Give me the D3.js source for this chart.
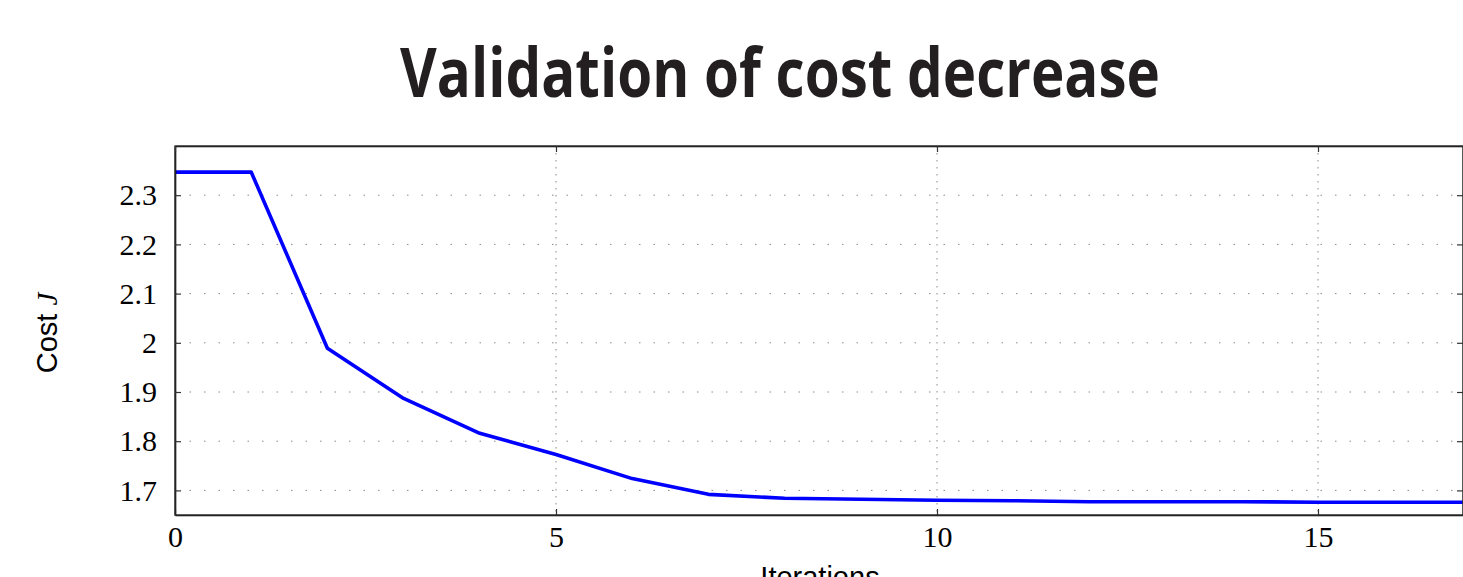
<!DOCTYPE html>
<html>
<head>
<meta charset="utf-8">
<script src="https://cdn.jsdelivr.net/npm/d3@7"></script>
<style>
  body { margin: 0; background: #fff; overflow: hidden; }
  .tick text { font-family: "Liberation Serif", "DejaVu Serif", serif; font-size: 30px; fill: #000; }
</style>
</head>
<body>
<div class="chart"></div>
<script>
// data
var iterations = [0, 1, 2, 3, 4, 5, 6, 7, 8, 9, 10, 11, 12, 13, 14, 15, 16, 17];
var cost = [2.347, 2.347, 1.989, 1.887, 1.816, 1.773, 1.724, 1.692, 1.684, 1.682,
            1.680, 1.679, 1.677, 1.677, 1.677, 1.676, 1.676, 1.676];
var xTicks = [0, 5, 10, 15];
var yTicks = [1.7, 1.8, 1.9, 2.0, 2.1, 2.2, 2.3];

var svgWidth = 1463;
var svgHeight = 577;

var margin = { top: 146, right: 0, bottom: 62, left: 175 };
var width = svgWidth - margin.left - margin.right;
var height = svgHeight - margin.top - margin.bottom;

var svg = d3.select(".chart")
  .append("svg")
  .attr("width", svgWidth)
  .attr("height", svgHeight);

svg.append("defs").append("clipPath").attr("id", "plotclip")
  .append("rect").attr("width", width).attr("height", height);

var chartGroup = svg.append("g")
  .attr("transform", `translate(${margin.left}, ${margin.top})`);

var xScale = d3.scaleLinear()
  .domain([0, width / 76.2])
  .range([0, width]);

var yScale = d3.scaleLinear()
  .domain([1.65, 2.4])
  .range([height, 0]);

// dotted grid
chartGroup.append("g")
  .selectAll("line")
  .data(yTicks)
  .enter()
  .append("line")
  .attr("x1", 0)
  .attr("x2", width)
  .attr("y1", d => yScale(d))
  .attr("y2", d => yScale(d))
  .attr("stroke", "#8a8a8a")
  .attr("stroke-width", 1)
  .attr("stroke-dasharray", "1.5,13");

chartGroup.append("g")
  .selectAll("line")
  .data(xTicks.filter(d => d > 0))
  .enter()
  .append("line")
  .attr("x1", d => xScale(d))
  .attr("x2", d => xScale(d))
  .attr("y1", 0)
  .attr("y2", height)
  .attr("stroke", "#8a8a8a")
  .attr("stroke-width", 1)
  .attr("stroke-dasharray", "1.5,5.5");

// the line
var line = d3.line()
  .x((d, i) => xScale(iterations[i]))
  .y(d => yScale(d));

chartGroup.append("path")
  .datum(cost)
  .attr("clip-path", "url(#plotclip)")
  .attr("fill", "none")
  .attr("stroke", "#0000ff")
  .attr("stroke-width", 3.6)
  .attr("stroke-linejoin", "round")
  .attr("d", line);

// axes (ticks point inwards)
var xAxis = d3.axisBottom(xScale).tickValues(xTicks).tickSizeInner(-6).tickSizeOuter(0).tickPadding(11);
var yAxis = d3.axisLeft(yScale).tickValues(yTicks).tickSizeInner(-6).tickSizeOuter(0).tickPadding(18)
  .tickFormat(d => d === 2 ? "2" : d3.format(".1f")(d));

var gx = chartGroup.append("g")
  .attr("transform", `translate(0, ${height})`)
  .call(xAxis);

var gy = chartGroup.append("g")
  .call(yAxis);

chartGroup.append("g")
  .call(d3.axisTop(xScale).tickValues(xTicks).tickSizeInner(-6).tickSizeOuter(0).tickFormat(""));
chartGroup.append("g")
  .attr("transform", `translate(${width}, 0)`)
  .call(d3.axisRight(yScale).tickValues(yTicks).tickSizeInner(-6).tickSizeOuter(0).tickFormat(""));

chartGroup.selectAll(".domain").attr("stroke", "#000").attr("stroke-width", 1.6);
chartGroup.selectAll(".tick line").attr("stroke", "#333").attr("stroke-width", 1.2);

// frame top/right
chartGroup.append("rect")
  .attr("width", width)
  .attr("height", height)
  .attr("fill", "none")
  .attr("stroke", "#333")
  .attr("stroke-width", 1.4);

// labels
svg.append("text")
  .attr("x", 780)
  .attr("y", 97)
  .attr("text-anchor", "middle")
  .attr("textLength", 760)
  .attr("lengthAdjust", "spacingAndGlyphs")
  .attr("font-family", "'Open Sans', sans-serif")
  .attr("font-weight", 700)
  .attr("font-size", "68px")
  .attr("fill", "#231f20")
  .text("Validation of cost decrease");

var ylab = svg.append("text")
  .attr("transform", "translate(57, 333) rotate(-90)")
  .attr("text-anchor", "middle")
  .attr("font-family", "'Liberation Sans', Arial, sans-serif")
  .attr("font-size", "29px")
  .attr("fill", "#000");
ylab.append("tspan").text("Cost ");
ylab.append("tspan")
  .attr("font-family", "'Liberation Serif', serif")
  .attr("font-style", "italic")
  .text("J");

svg.append("text")
  .attr("x", 820)
  .attr("y", 587)
  .attr("text-anchor", "middle")
  .attr("font-family", "'Liberation Sans', Arial, sans-serif")
  .attr("font-size", "29px")
  .attr("fill", "#000")
  .text("Iterations");
</script>
</body>
</html>
